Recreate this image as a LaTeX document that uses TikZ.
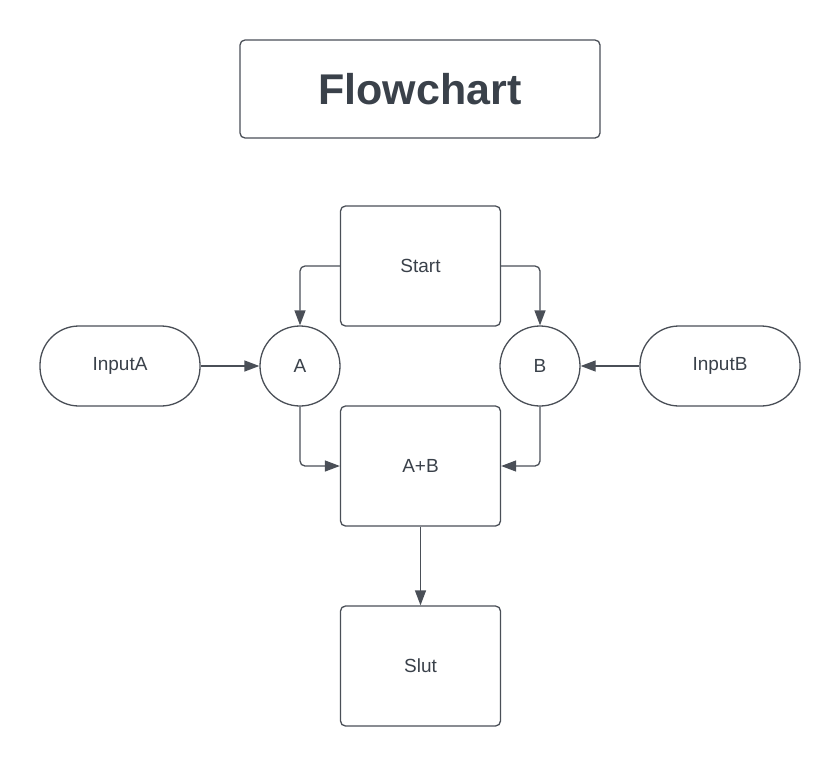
\documentclass[tikz,border=0pt]{standalone}
\usepackage{fontspec}
\setmainfont{Liberation Sans}
\usetikzlibrary{arrows.meta}
\definecolor{ink}{HTML}{3A414A}
\definecolor{edge}{HTML}{4A4F57}
\begin{document}
\begin{tikzpicture}[x=1pt,y=-1pt,
  box/.style={draw=edge,line width=1.3pt,rounded corners=5pt,minimum width=160pt,minimum height=120pt,inner sep=0pt,text=ink,font=\fontsize{19}{22}\selectfont},
  circ/.style={draw=edge,line width=1.3pt,circle,minimum size=80pt,inner sep=0pt,text=ink,font=\fontsize{19}{22}\selectfont},
  pill/.style={draw=edge,line width=1.3pt,rounded corners=39pt,minimum width=160pt,minimum height=80pt,inner sep=0pt,text=ink,font=\fontsize{19}{22}\selectfont},
  conn/.style={draw=edge,line width=1.3pt,rounded corners=5pt,-{Triangle[length=15pt,width=11pt]}}]
\useasboundingbox (0,0) rectangle (840,766);
\node[box,minimum width=360pt,minimum height=98pt,font=\fontsize{43}{50}\selectfont\bfseries] (title) at (420,89) {Flowchart};
\node[box] (start) at (420.5,266) {Start};
\node[circ] (a) at (300,366) {A};
\node[circ] (b) at (540,366) {B};
\node[pill] (ina) at (120,366) {InputA};
\node[pill] (inb) at (720,366) {InputB};
\node[box] (sum) at (420.5,466) {A+B};
\node[box] (slut) at (420.5,666) {Slut};
\draw[conn] (start.west) -| (a.north);
\draw[conn] (start.east) -| (b.north);
\draw[conn] (ina.east) -- (a.west);
\draw[conn] (inb.west) -- (b.east);
\draw[conn] (a.south) |- (sum.west);
\draw[conn] (b.south) |- (sum.east);
\draw[conn] (sum.south) -- (slut.north);
\end{tikzpicture}
\end{document}
